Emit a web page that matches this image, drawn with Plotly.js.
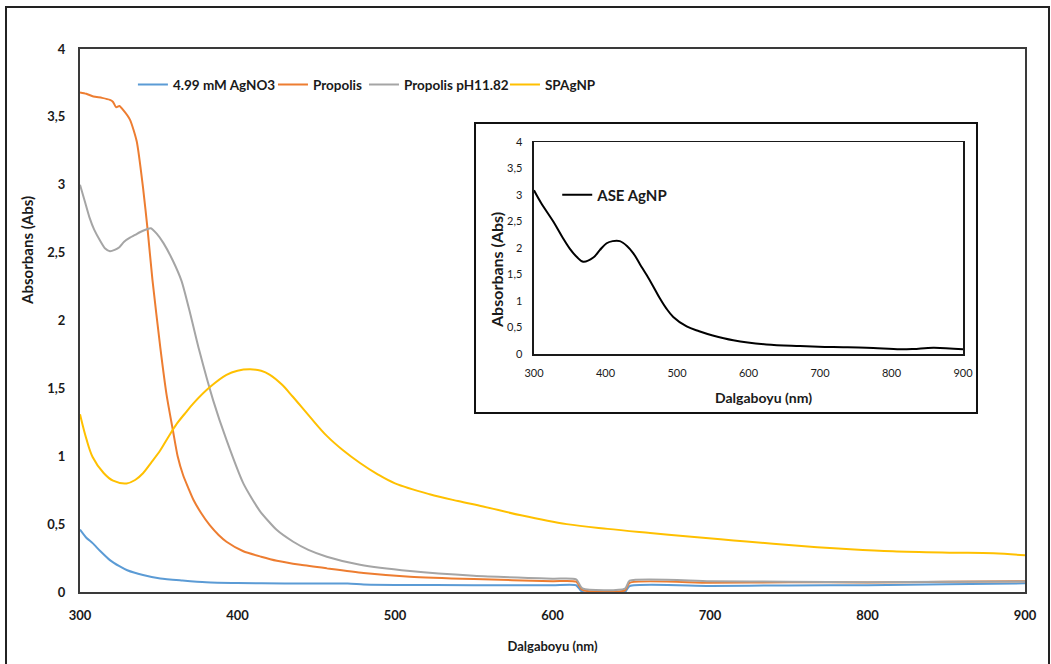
<!DOCTYPE html>
<html>
<head>
<meta charset="utf-8">
<script src="https://cdn.plot.ly/plotly-3.0.1.min.js"></script>
<style>html,body{margin:0;padding:0;background:#fff;}#chart{width:1051px;height:664px;}</style>
</head>
<body>
<div id="chart"></div>
<script>
// ---- Data ----
const seriesNames = ["4.99 mM AgNO3", "Propolis", "Propolis pH11.82", "SPAgNP"];
const insetName = "ASE AgNP";
const xTitle = "Dalgaboyu (nm)";
const yTitle = "Absorbans (Abs)";

const agno3_nm  = [300, 304, 308, 313, 319, 325, 330, 340, 351, 365, 380, 400, 430, 470, 480, 500, 550, 600, 615, 619, 646, 649, 700, 750, 800, 850, 900];
const agno3_abs = [0.46, 0.40, 0.36, 0.30, 0.235, 0.19, 0.16, 0.125, 0.10, 0.085, 0.072, 0.066, 0.062, 0.062, 0.055, 0.052, 0.05, 0.05, 0.05, 0.0, 0.0, 0.044, 0.045, 0.048, 0.05, 0.058, 0.064];

const propolis_nm  = [300, 304, 308.5, 314, 319, 321, 323, 325, 327.5, 331.7, 336, 340, 343, 346, 351, 355, 359, 362, 365.5, 369, 372, 377, 382.5, 388, 393, 403.7, 415, 425, 440, 456.7, 480, 509.5, 550, 600, 615, 619, 646, 649, 700, 750, 800, 850, 900];
const propolis_abs = [3.68, 3.67, 3.65, 3.64, 3.625, 3.61, 3.57, 3.58, 3.55, 3.48, 3.32, 2.98, 2.66, 2.30, 1.80, 1.45, 1.19, 1.0, 0.86, 0.76, 0.68, 0.58, 0.49, 0.42, 0.37, 0.30, 0.26, 0.23, 0.20, 0.174, 0.14, 0.113, 0.095, 0.08, 0.076, 0.015, 0.012, 0.068, 0.068, 0.072, 0.07, 0.075, 0.08];

const propolisPH_nm  = [300, 303, 306, 309, 312.7, 316, 319, 322, 325, 328, 331.7, 335, 338, 342, 345, 348.7, 353, 359, 364.5, 370, 375.7, 384.6, 393, 403.7, 414, 425, 435.4, 445, 456.7, 477.8, 509.5, 550, 600, 615, 619, 646, 649, 700, 750, 800, 850, 900];
const propolisPH_abs = [3.0, 2.88, 2.76, 2.67, 2.59, 2.53, 2.51, 2.52, 2.54, 2.58, 2.61, 2.63, 2.65, 2.67, 2.68, 2.64, 2.57, 2.44, 2.29, 2.05, 1.78, 1.41, 1.12, 0.80, 0.60, 0.456, 0.37, 0.31, 0.26, 0.20, 0.154, 0.12, 0.098, 0.093, 0.027, 0.025, 0.083, 0.08, 0.075, 0.072, 0.075, 0.078];

const spagnp_nm  = [300, 304, 308, 315, 321, 329.6, 335, 340, 345, 351, 356, 361.5, 367, 372, 382.5, 393, 400, 408, 415, 420.6, 428, 435, 446, 456.7, 467, 477.8, 488.5, 500, 522, 540, 556, 580, 609, 635, 662, 690, 715, 740, 768, 789, 816, 852, 880, 900];
const spagnp_abs = [1.31, 1.13, 0.995, 0.877, 0.82, 0.80, 0.825, 0.875, 0.95, 1.044, 1.14, 1.24, 1.32, 1.39, 1.51, 1.60, 1.63, 1.64, 1.63, 1.60, 1.53, 1.44, 1.29, 1.15, 1.044, 0.95, 0.87, 0.80, 0.72, 0.67, 0.63, 0.565, 0.50, 0.465, 0.435, 0.405, 0.38, 0.355, 0.33, 0.315, 0.30, 0.29, 0.285, 0.27];

const ase_nm  = [300, 310, 327, 340, 350, 360, 369, 383, 392, 401.6, 410, 420, 430, 439, 448, 457.6, 467, 476, 485, 494.8, 513.5, 531, 550, 578.7, 625, 672, 718.5, 765, 812, 830.5, 858.5, 900];
const ase_abs = [3.09, 2.85, 2.50, 2.20, 1.99, 1.83, 1.74, 1.82, 1.96, 2.09, 2.13, 2.13, 2.04, 1.90, 1.70, 1.49, 1.27, 1.05, 0.86, 0.70, 0.52, 0.43, 0.35, 0.26, 0.18, 0.15, 0.13, 0.12, 0.088, 0.094, 0.12, 0.09];

const xTickVals = [300, 400, 500, 600, 700, 800, 900];
const yTickVals = [0, 0.5, 1, 1.5, 2, 2.5, 3, 3.5, 4];

// ---- Styles ----
const colors = ["#5B9BD5", "#ED7D31", "#A5A5A5", "#FFC000"];
const smooth = [0.6, 0.6, 0.6, 1.0];
const legendIds = ["legend", "legend3", "legend4", "legend5"];
const legendX = [0.056, 0.2042, 0.3005, 0.4497];
const FONT = "Lato, 'Liberation Sans', sans-serif";
const txt = "#1a1a1a";

const mainX = [agno3_nm, propolis_nm, propolisPH_nm, spagnp_nm];
const mainY = [agno3_abs, propolis_abs, propolisPH_abs, spagnp_abs];

const traces = seriesNames.map((n, i) => ({
  x: mainX[i], y: mainY[i], name: n, type: "scatter", mode: "lines",
  line: {color: colors[i], width: 2, shape: "spline", smoothing: smooth[i]},
  xaxis: "x", yaxis: "y", legend: legendIds[i]
}));
traces.push({
  x: ase_nm, y: ase_abs, name: insetName, type: "scatter", mode: "lines",
  line: {color: "#000000", width: 2, shape: "spline", smoothing: 1.0},
  xaxis: "x2", yaxis: "y2", legend: "legend2"
});

const layout = {
  width: 1051, height: 664, autosize: false,
  margin: {l: 80, r: 26, t: 49, b: 72},
  paper_bgcolor: "#ffffff", plot_bgcolor: "#ffffff",
  separators: ", ",
  font: {family: FONT, color: txt},
  showlegend: true,
  xaxis: {
    domain: [0, 1], range: [300, 900], tickvals: xTickVals, ticks: "",
    showgrid: false, zeroline: false, showline: true, mirror: true,
    linecolor: "#3a3a3a", linewidth: 2,
    tickfont: {family: FONT, size: 13, color: txt, weight: "bold"},
    ticklabelstandoff: 10,
    title: {text: xTitle, standoff: 20, font: {family: FONT, size: 13, color: txt, weight: "bold"}},
    automargin: false
  },
  yaxis: {
    domain: [0, 1], range: [0, 4], tickvals: yTickVals, ticks: "",
    showgrid: false, zeroline: false, showline: true, mirror: true,
    linecolor: "#3a3a3a", linewidth: 2,
    tickfont: {family: FONT, size: 13, color: txt, weight: "bold"},
    ticklabelstandoff: 10,
    automargin: false
  },
  xaxis2: {
    domain: [0.4804, 0.9344], range: [300, 900], tickvals: xTickVals, ticks: "",
    anchor: "y2", showgrid: false, zeroline: false, showline: true, mirror: true,
    linecolor: "#1a1a1a", linewidth: 1.5,
    tickfont: {family: FONT, size: 11, color: txt},
    ticklabelstandoff: 8,
    automargin: false
  },
  yaxis2: {
    domain: [0.4383, 0.8287], range: [0, 4], tickvals: yTickVals, ticks: "",
    anchor: "x2", showgrid: false, zeroline: false, showline: true, mirror: true,
    linecolor: "#1a1a1a", linewidth: 1.5,
    tickfont: {family: FONT, size: 11, color: txt},
    ticklabelstandoff: 8,
    automargin: false
  },
  annotations: [
    {text: yTitle, xref: "paper", yref: "paper", x: -0.0561, y: 0.63, xanchor: "center", yanchor: "middle",
     textangle: -90, showarrow: false, font: {family: FONT, size: 15, color: txt, weight: "bold"}},
    {text: xTitle, xref: "paper", yref: "paper", x: 0.7238, y: 0.359, xanchor: "center", yanchor: "middle",
     showarrow: false, font: {family: FONT, size: 14, color: txt, weight: "bold"}},
    {text: yTitle, xref: "paper", yref: "paper", x: -0.0815 + (496 - 3) / 945, y: (592 - 270) / 543, xanchor: "center", yanchor: "middle",
     textangle: -90, showarrow: false, font: {family: FONT, size: 16, color: txt, weight: "bold"}}
  ],
  legend2: {
    x: 0.505, xanchor: "left", y: 0.731, yanchor: "middle",
    bgcolor: "rgba(0,0,0,0)", itemwidth: 30,
    font: {family: FONT, size: 15, color: txt, weight: "bold"}
  },
  shapes: [
    {type: "rect", xref: "paper", yref: "paper", x0: -0.0783, x1: 1.0254, y0: -0.16, y1: 1.0773,
     line: {color: "#222", width: 2}, fillcolor: "rgba(0,0,0,0)", layer: "below"},
    {type: "rect", xref: "paper", yref: "paper", x0: 0.418, x1: 0.9492, y0: 0.3297, y1: 0.8637,
     line: {color: "#111", width: 2}, fillcolor: "#ffffff", layer: "below"}
  ]
};
legendIds.forEach((id, i) => {
  layout[id] = {
    orientation: "h", x: legendX[i], xanchor: "left", y: 0.934, yanchor: "middle",
    bgcolor: "rgba(0,0,0,0)", itemwidth: 30,
    font: {family: FONT, size: 13.5, color: txt, weight: "bold"}
  };
});

Plotly.newPlot("chart", traces, layout, {displayModeBar: false, staticPlot: true});
</script>
</body>
</html>
